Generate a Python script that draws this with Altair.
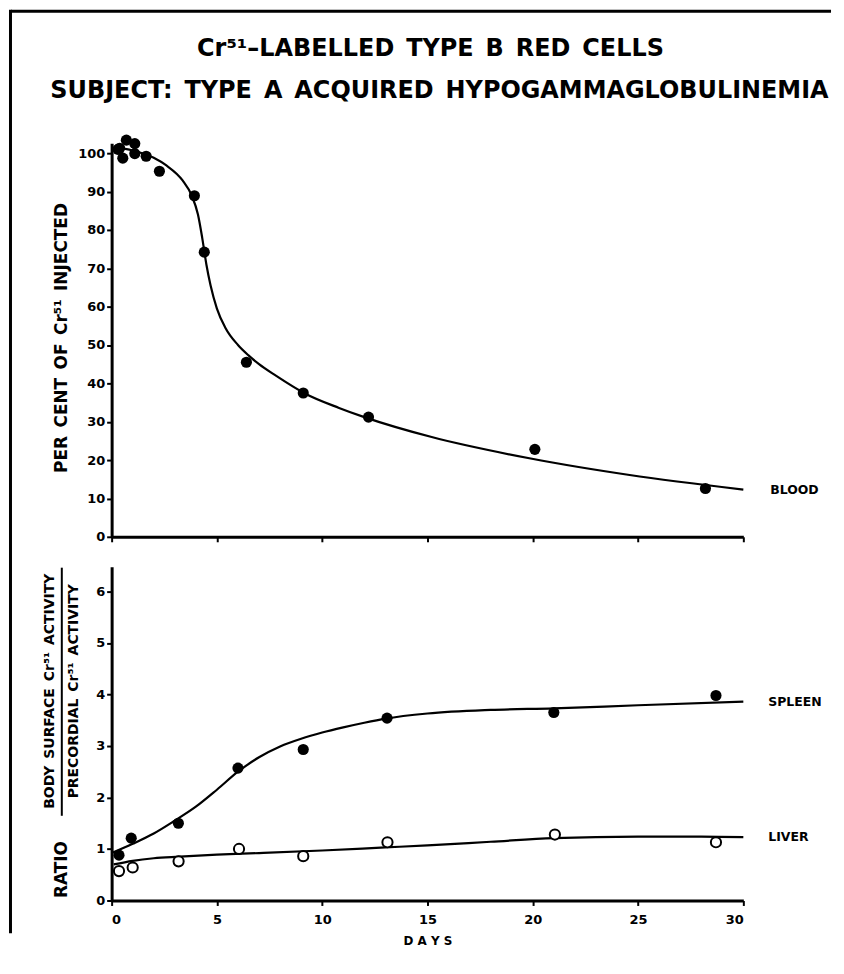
import altair as alt
import pandas as pd

# ---------------- data ----------------
blood_day = [0.3, 0.38, 0.53, 0.7, 1.1, 1.1, 1.64, 2.27, 3.93, 4.4, 6.4, 9.1, 12.2, 20.1, 28.2]
blood_pct = [101.0, 101.3, 98.7, 103.4, 102.5, 99.9, 99.2, 95.3, 88.9, 74.2, 45.5, 37.5, 31.2, 22.8, 12.6]

blood_curve_day = [0.15, 1.0, 2.0, 2.6, 3.37, 3.8, 4.1, 4.3, 4.5, 4.7, 5.0, 5.4, 6.0, 6.5, 7.0, 7.8, 9.2, 10.8, 12.0, 15.2, 19.9, 24.6, 30.0]
blood_curve_pct = [101.5, 100.7, 98.8, 96.8, 92.9, 89.0, 84.0, 78.0, 71.0, 65.5, 59.5, 54.5, 50.0, 47.3, 45.0, 42.0, 37.3, 33.6, 31.2, 26.0, 20.4, 16.1, 12.3]

spleen_day = [0.35, 0.93, 3.17, 6.0, 9.1, 13.08, 21.0, 28.7]
spleen_ratio = [0.88, 1.21, 1.50, 2.57, 2.93, 3.54, 3.65, 3.98]
spleen_curve_day = [0.06, 1.0, 2.0, 3.0, 4.0, 5.0, 6.0, 7.0, 8.0, 9.0, 10.0, 11.0, 12.0, 13.0, 15.0, 18.0, 21.0, 25.0, 30.0]
spleen_curve_ratio = [0.93, 1.10, 1.30, 1.55, 1.82, 2.15, 2.50, 2.78, 2.99, 3.14, 3.26, 3.36, 3.45, 3.53, 3.63, 3.70, 3.73, 3.79, 3.86]

liver_day = [0.35, 1.0, 3.18, 6.05, 9.1, 13.1, 21.05, 28.7]
liver_ratio = [0.57, 0.64, 0.76, 1.0, 0.86, 1.13, 1.28, 1.13]
liver_curve_day = [0.1, 1.0, 2.0, 3.2, 5.0, 7.0, 10.0, 13.0, 15.0, 18.0, 21.0, 25.0, 28.0, 30.0]
liver_curve_ratio = [0.70, 0.77, 0.82, 0.85, 0.89, 0.92, 0.97, 1.03, 1.07, 1.14, 1.21, 1.24, 1.24, 1.23]

x_ticks = [0, 5, 10, 15, 20, 25, 30]
top_ticks = [0, 10, 20, 30, 40, 50, 60, 70, 80, 90, 100]
bottom_ticks = [0, 1, 2, 3, 4, 5, 6]

SP = "\u2002"  # wide word gap, as in the stencil lettering
title_line1 = SP.join(["Cr\u2075\u00b9\u2013LABELLED", "TYPE", "B", "RED", "CELLS"])
title_line2 = SP.join(["SUBJECT:", "TYPE", "A", "ACQUIRED", "HYPOGAMMAGLOBULINEMIA"])
top_ytitle = SP.join(["PER", "CENT", "OF", "Cr\u2075\u00b9", "INJECTED"])
ratio_word = "RATIO"
numerator = SP.join(["BODY", "SURFACE", "Cr\u2075\u00b9", "ACTIVITY"])
denominator = SP.join(["PRECORDIAL", "Cr\u2075\u00b9", "ACTIVITY"])
x_title = "D A Y S"

FONT = "DejaVu Sans"
W = 634
H_TOP = 395
H_BOT = 335

blood_pts = pd.DataFrame({"day": blood_day, "v": blood_pct})
blood_crv = pd.DataFrame({"day": blood_curve_day, "v": blood_curve_pct})
spleen_pts = pd.DataFrame({"day": spleen_day, "v": spleen_ratio})
spleen_crv = pd.DataFrame({"day": spleen_curve_day, "v": spleen_curve_ratio})
liver_pts = pd.DataFrame({"day": liver_day, "v": liver_ratio})
liver_crv = pd.DataFrame({"day": liver_curve_day, "v": liver_curve_ratio})

common_axis = dict(grid=False, domainColor="black", domainWidth=3, tickColor="black",
                   tickWidth=2, tickSize=5, labelFont=FONT, labelFontWeight="bold",
                   labelFontSize=13, labelColor="black")

x_top = alt.X("day:Q", scale=alt.Scale(domain=[0, 30], nice=False, zero=False),
              axis=alt.Axis(values=x_ticks, labels=False, title=None, **common_axis))
y_top = alt.Y("v:Q", scale=alt.Scale(domain=[0, 102.6], nice=False),
              axis=alt.Axis(values=top_ticks, title=top_ytitle, titleAngle=270,
                            titleX=-50, titleY=195, titleAlign="center",
                            titleBaseline="middle", titleFont=FONT, titleFontSize=17,
                            titleFontWeight="bold", titleColor="black",
                            labelPadding=2, **common_axis))

x_bot = alt.X("day:Q", scale=alt.Scale(domain=[0, 30], nice=False, zero=False),
              axis=alt.Axis(values=x_ticks, title=x_title, titleFont=FONT, titleFontSize=12,
                            titleFontWeight="bold", titleColor="black", titleY=40,
                            titleBaseline="middle", labelPadding=8, format="d",
                            **common_axis))
y_bot = alt.Y("v:Q", scale=alt.Scale(domain=[0, 6.48], nice=False),
              axis=alt.Axis(values=bottom_ticks, title=None, labelPadding=2, format="d",
                            **common_axis))

one = pd.DataFrame({"a": [0]})

# ---------- top panel ----------
border_left = alt.Chart(one).mark_rect(color="black").encode(
    x=alt.value(-103), x2=alt.value(-100), y=alt.value(-134), y2=alt.value(793))
border_top = alt.Chart(one).mark_rect(color="black").encode(
    x=alt.value(-101), x2=alt.value(722), y=alt.value(-134), y2=alt.value(-131))

titles = alt.Chart(pd.DataFrame({
    "t": [title_line1, title_line2],
    "px": [320, 329],
    "py": [-95, -52],
})).mark_text(font=FONT, fontWeight="bold", fontSize=24, color="black",
              align="center", baseline="middle").encode(
    x=alt.X("px:Q", scale=None), y=alt.Y("py:Q", scale=None), text="t:N")

blood_line = alt.Chart(blood_crv).mark_line(color="black", strokeWidth=2.2,
                                            interpolate="monotone").encode(x=x_top, y=y_top)
blood_dots = alt.Chart(blood_pts).mark_circle(color="black", size=125, opacity=1).encode(
    x=x_top, y=y_top)
blood_lab = alt.Chart(pd.DataFrame({"day": [30], "v": [blood_curve_pct[-1]], "t": ["BLOOD"]})).mark_text(
    font=FONT, fontWeight="bold", fontSize=12.5, color="black", align="left", dx=27,
    baseline="middle").encode(x=x_top, y=y_top, text="t:N")

top = alt.layer(border_left, border_top, titles, blood_line, blood_dots, blood_lab).properties(
    width=W, height=H_TOP)

# ---------- bottom panel ----------
spleen_line = alt.Chart(spleen_crv).mark_line(color="black", strokeWidth=2.2,
                                              interpolate="monotone").encode(x=x_bot, y=y_bot)
liver_line = alt.Chart(liver_crv).mark_line(color="black", strokeWidth=2.2,
                                            interpolate="monotone").encode(x=x_bot, y=y_bot)
spleen_dots = alt.Chart(spleen_pts).mark_circle(color="black", size=125, opacity=1).encode(
    x=x_bot, y=y_bot)
liver_dots = alt.Chart(liver_pts).mark_point(shape="circle", color="black", fill="white",
                                             filled=False, size=105, strokeWidth=2,
                                             opacity=1).encode(x=x_bot, y=y_bot)
series_lab = alt.Chart(pd.DataFrame({
    "day": [30, 30],
    "v": [spleen_curve_ratio[-1], liver_curve_ratio[-1]],
    "t": ["SPLEEN", "LIVER"],
})).mark_text(font=FONT, fontWeight="bold", fontSize=12.5, color="black", align="left",
              dx=25, baseline="middle").encode(x=x_bot, y=y_bot, text="t:N")

frac = alt.Chart(pd.DataFrame({
    "t": [numerator, denominator, ratio_word],
    "px": [-62, -38, -50],
    "py": [125, 125, 304],
    "fs": [14, 14, 17],
})).mark_text(font=FONT, fontWeight="bold", color="black", angle=270,
              align="center", baseline="middle").encode(
    x=alt.X("px:Q", scale=None), y=alt.Y("py:Q", scale=None), text="t:N",
    size=alt.Size("fs:Q", scale=None, legend=None))
frac_bar = alt.Chart(one).mark_rule(color="black", strokeWidth=2).encode(
    x=alt.value(-50), y=alt.value(1), y2=alt.value(250))

bottom = alt.layer(spleen_line, liver_line, spleen_dots, liver_dots, series_lab,
                   frac, frac_bar).properties(width=W, height=H_BOT)

chart = alt.vconcat(top, bottom, spacing=30, bounds="flush").properties(
    padding={"left": 1, "top": 0, "right": 5, "bottom": 5},
    background="white",
).configure_view(stroke=None)

chart.save("out.html", embed_options={"renderer": "svg", "actions": False})
